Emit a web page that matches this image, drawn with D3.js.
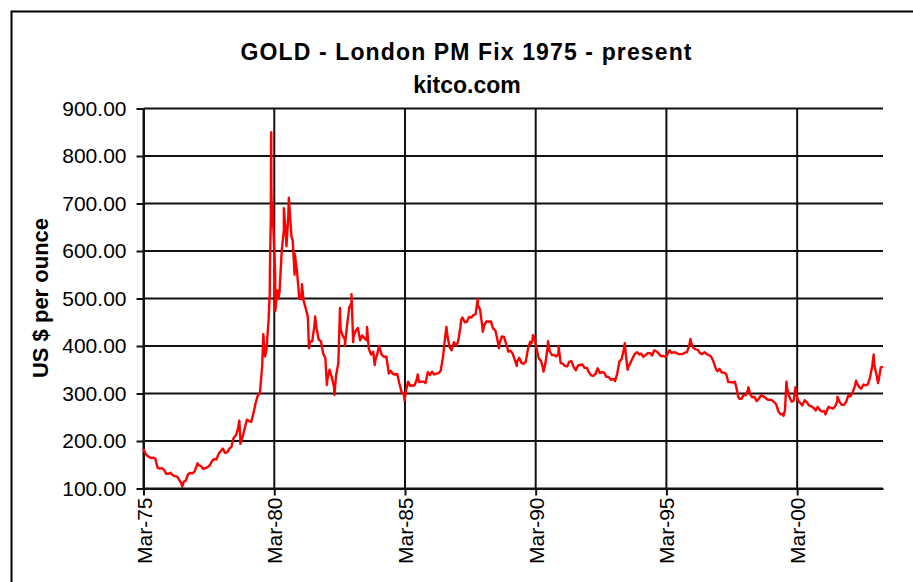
<!DOCTYPE html>
<html>
<head>
<meta charset="utf-8">
<script src="https://cdn.jsdelivr.net/npm/d3@7"></script>
<style>
  body { margin: 0; background: #fff; }
  svg { display: block; font-family: "Liberation Sans", Arial, sans-serif; }
</style>
</head>
<body>
<div id="chart"></div>
<script>
// monthly London PM fix, US$ per ounce, first value = March 1975
const firstMonth = [1975, 2];
const prices1975to1979 = [
  178, 170, 167, 164, 165, 163, 144, 142, 143, 139,
  131, 131, 133, 128, 126, 125, 118, 110, 114, 117, 130, 133,
  132, 136, 148, 149, 147, 141, 143, 145, 149, 158, 162, 161,
  173, 179, 184, 175, 176, 184, 188, 207, 212, 227, 206, 208,
  227, 245, 242, 240, 257, 279, 295, 301, 355, 392, 392, 456
];
const prices1980to1989 = [
  675, 665, 554, 517, 513, 600, 644, 627, 674, 661, 623, 594,
  557, 500, 499, 496, 480, 461, 409, 410, 443, 437, 413, 410,
  384, 374, 330, 350, 334, 315, 339, 364, 435, 422, 414, 444,
  481, 491, 420, 432, 438, 412, 422, 416, 412, 394, 382, 388,
  371, 386, 395, 381, 377, 378, 348, 348, 341, 340, 341, 321,
  303, 299, 304, 325, 316, 317, 317, 330, 324, 325, 325, 322,
  345, 339, 346, 340, 342, 343, 348, 376, 418, 423, 398, 391,
  408, 401, 409, 438, 460, 450, 451, 461, 460, 465, 467, 486,
  477, 443, 444, 452, 451, 452, 437, 433, 413, 406, 420, 419,
  404, 388, 390, 384, 371, 367, 375, 365, 362, 367, 394, 409
];
const prices1990to1999 = [
  410, 417, 394, 374, 369, 352, 362, 395, 389, 381, 381, 378,
  383, 364, 363, 358, 357, 367, 368, 356, 349, 359, 360, 361,
  354, 354, 345, 338, 337, 341, 353, 343, 345, 344, 335, 335,
  329, 330, 330, 342, 367, 372, 392, 379, 355, 364, 374, 383,
  387, 382, 384, 377, 381, 385, 385, 380, 391, 389, 384, 379,
  379, 377, 382, 391, 385, 387, 386, 383, 383, 383, 386, 387,
  400, 405, 396, 393, 392, 385, 383, 387, 383, 381, 378, 369,
  355, 347, 352, 344, 344, 341, 324, 324, 323, 325, 306, 289,
  289, 297, 296, 308, 299, 292, 293, 284, 289, 296, 294, 291,
  287, 287, 286, 282, 277, 262, 256, 257, 265, 311, 293, 283
];
const prices2000to2003 = [
  285, 300, 286, 280, 275, 286, 282, 275, 273, 270, 266, 272,
  265, 262, 263, 261, 272, 270, 268, 273, 283, 283, 276, 276,
  282, 296, 294, 302, 314, 322, 314, 310, 319, 317, 319, 333,
  357, 359, 340, 328, 355, 356
];

// daily highs and lows that stand out from the monthly line
const spikeDates = [
  "1975-03-03", "1976-08-25", "1977-03-28", "1978-07-31", "1978-10-31",
  "1978-11-15", "1979-10-02", "1979-10-26", "1979-12-31", "1980-01-02",
  "1980-01-18", "1980-01-21", "1980-01-22", "1980-02-01", "1980-02-13",
  "1980-03-18", "1980-04-30", "1980-07-15", "1980-08-20", "1980-09-22",
  "1980-10-30", "1980-12-12", "1981-03-25", "1981-07-01", "1981-09-25",
  "1982-03-08", "1982-06-21", "1982-09-07", "1982-11-15", "1983-02-15",
  "1983-03-10", "1983-09-20", "1984-01-05", "1984-03-05", "1984-07-20",
  "1985-02-25", "1985-08-28", "1986-10-03", "1987-04-27", "1987-12-14",
  "1988-02-22", "1988-10-05", "1989-06-12", "1989-12-28", "1990-01-25",
  "1990-06-20", "1990-08-22", "1991-01-16", "1993-03-15", "1993-07-30",
  "1993-09-08", "1996-02-02", "1997-01-30", "1997-11-28", "1998-04-22",
  "1999-08-25", "1999-10-05", "2000-02-07", "2000-11-15", "2001-04-02",
  "2001-09-17", "2002-06-04", "2003-02-05", "2003-04-07"
];
const spikeValues = [
  184, 104, 153, 200, 243,
  194, 425, 378, 512, 559,
  835, 850, 737, 653, 700,
  474, 500, 690, 610, 712,
  630, 550, 530, 395, 462,
  318, 297, 480, 400, 509,
  408, 440, 360, 400, 342,
  285, 340, 440, 455, 499,
  430, 395, 358, 405, 423,
  346, 410, 400, 326, 406,
  350, 415, 350, 294, 313,
  253, 325, 313, 264, 256,
  293, 327, 382, 322
];

const yTicks = [100, 200, 300, 400, 500, 600, 700, 800, 900];
const xTickDates = ["1975-03-03", "1980-03-03", "1985-03-03", "1990-03-03", "1995-03-03", "2000-03-03"];
const xTickLabels = ["Mar-75", "Mar-80", "Mar-85", "Mar-90", "Mar-95", "Mar-00"];

const titleText = "GOLD - London PM Fix 1975 - present";
const subtitleText = "kitco.com";
const yLabel = "US $ per ounce";

// build the series
const parse = d3.utcParse("%Y-%m-%d");
const monthly = [].concat(prices1975to1979, prices1980to1989, prices1990to1999, prices2000to2003);
const series = monthly.map((v, i) => ({
  date: new Date(Date.UTC(firstMonth[0], firstMonth[1] + i, 15)),
  value: v
}));
spikeDates.forEach((d, i) => series.push({ date: parse(d), value: spikeValues[i] }));
series.sort((a, b) => a.date - b.date);

const width = 913, height = 582;
const plot = { left: 143.5, right: 883, top: 108.5, bottom: 488.5 };

const svg = d3.select("#chart").append("svg")
  .attr("width", width)
  .attr("height", height);

svg.append("rect")
  .attr("width", width).attr("height", height)
  .attr("fill", "#fff");

// chart area frame (runs off the right and bottom edges)
svg.append("rect")
  .attr("x", 11.5).attr("y", 11.5)
  .attr("width", 960).attr("height", 640)
  .attr("fill", "none")
  .attr("stroke", "#000")
  .attr("stroke-width", 2);

const x = d3.scaleUtc()
  .domain([parse(xTickDates[0]), d3.max(series, d => d.date)])
  .range([plot.left, plot.right]);

const y = d3.scaleLinear()
  .domain([100, 900])
  .range([plot.bottom, plot.top]);

const tickDates = xTickDates.map(parse);

// grid
const grid = svg.append("g").attr("stroke", "#111").attr("stroke-width", 2);
grid.selectAll("line.h")
  .data(yTicks)
  .enter().append("line")
  .attr("class", "h")
  .attr("x1", plot.left).attr("x2", plot.right)
  .attr("y1", d => y(d)).attr("y2", d => y(d));
grid.selectAll("line.v")
  .data(tickDates)
  .enter().append("line")
  .attr("class", "v")
  .attr("x1", d => x(d)).attr("x2", d => x(d))
  .attr("y1", plot.top).attr("y2", plot.bottom);

// y axis
const yAxis = svg.append("g")
  .attr("transform", `translate(${plot.left},0)`)
  .call(d3.axisLeft(y)
    .tickValues(yTicks)
    .tickSize(7)
    .tickSizeOuter(0)
    .tickPadding(10)
    .tickFormat(d3.format(".2f")));
yAxis.select(".domain").attr("stroke", "#111").attr("stroke-width", 2);
yAxis.selectAll(".tick line").attr("stroke", "#111").attr("stroke-width", 2);
yAxis.selectAll("text")
  .attr("fill", "#000")
  .style("font-size", "21px")
  .style("font-family", "'Liberation Sans', Arial, sans-serif");

// x axis
const xAxis = svg.append("g")
  .attr("transform", `translate(0,${plot.bottom})`)
  .call(d3.axisBottom(x)
    .tickValues(tickDates)
    .tickSize(7)
    .tickSizeOuter(0)
    .tickFormat((d, i) => xTickLabels[i]));
xAxis.select(".domain").attr("stroke", "#111").attr("stroke-width", 2);
xAxis.selectAll(".tick line").attr("stroke", "#111").attr("stroke-width", 2);
xAxis.selectAll("text")
  .attr("fill", "#000")
  .attr("transform", "rotate(-90)")
  .attr("x", -9)
  .attr("y", 0)
  .attr("dy", "0.36em")
  .style("text-anchor", "end")
  .style("font-size", "21px")
  .style("font-family", "'Liberation Sans', Arial, sans-serif");

// gold price line
svg.append("path")
  .datum(series)
  .attr("fill", "none")
  .attr("stroke", "#ff0000")
  .attr("stroke-width", 2.4)
  .attr("stroke-linejoin", "round")
  .attr("d", d3.line().x(d => x(d.date)).y(d => y(d.value)));

// titles
svg.append("text")
  .attr("x", 466).attr("y", 60)
  .attr("text-anchor", "middle")
  .attr("textLength", 451)
  .attr("lengthAdjust", "spacing")
  .style("font-size", "23px")
  .style("font-weight", "bold")
  .text(titleText);

svg.append("text")
  .attr("x", 467).attr("y", 93)
  .attr("text-anchor", "middle")
  .style("font-size", "23px")
  .style("font-weight", "bold")
  .text(subtitleText);

svg.append("text")
  .attr("transform", "translate(48,298) rotate(-90)")
  .attr("text-anchor", "middle")
  .style("font-size", "22px")
  .style("font-weight", "bold")
  .text(yLabel);
</script>
</body>
</html>
